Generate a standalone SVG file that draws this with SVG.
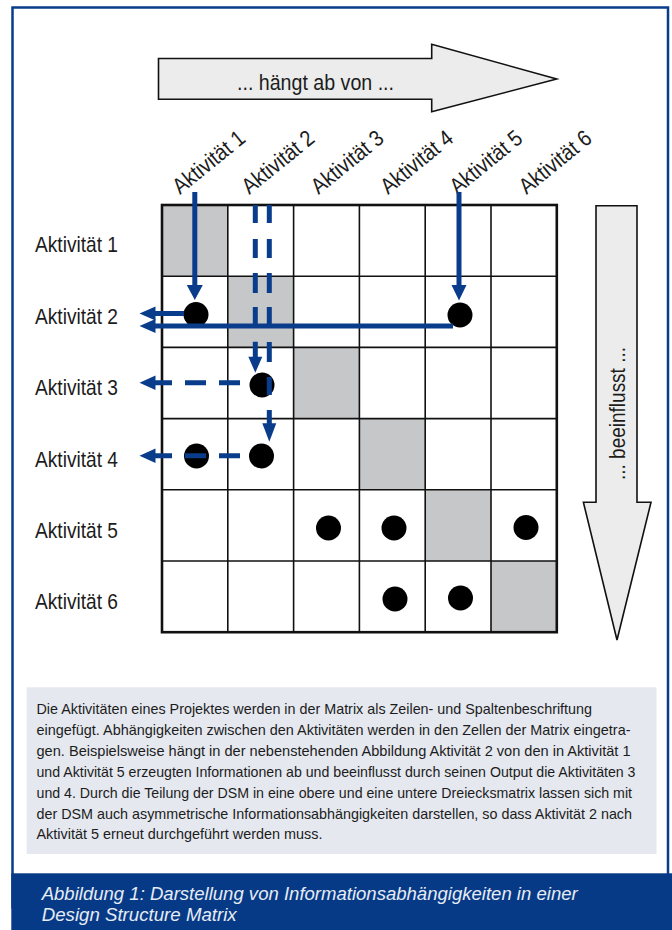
<svg xmlns="http://www.w3.org/2000/svg" width="672" height="930" viewBox="0 0 672 930">
<defs>
<style>
.lbl{font-family:"Liberation Sans",Arial,sans-serif;font-size:22.5px;fill:#1c1c1c}
.body{font-family:"Liberation Sans",Arial,sans-serif;font-size:15px;fill:#1c1c1c}
.cap{font-family:"Liberation Sans",Arial,sans-serif;font-size:18px;font-style:italic;fill:#e6ecf5}
.big{fill:#ebeceb;stroke:#111;stroke-width:1.6}
.shade{fill:#c6c7c9}
.gl{stroke:#111;stroke-width:1.6}
.dot{fill:#000}
.con{stroke:#0a3c8c;stroke-width:5;fill:none}
.head{fill:#0a3c8c}
</style>
</defs>
<rect x="0" y="0" width="672" height="930" fill="#fff"/>
<rect id="frame" x="12.5" y="7.5" width="655.5" height="900" fill="#fff" stroke="#0a3c8c" stroke-width="2.5"/>

<g id="arrow-haengt">
<polygon class="big" points="158.5,58.5 431.7,58.5 431.7,44.3 556.7,79 431.7,111.7 431.7,99.3 158.5,99.3"/>
<text class="lbl" x="237" y="90" textLength="157" lengthAdjust="spacingAndGlyphs">... hängt ab von ...</text>
</g>

<g id="arrow-beeinflusst">
<polygon class="big" points="596,205.7 637,205.7 637,502.3 651,502.3 617,640 583.4,502.3 596,502.3"/>
<text class="lbl" transform="translate(624.5,480) rotate(-90)" x="0" y="0" textLength="133" lengthAdjust="spacingAndGlyphs">... beeinflusst ...</text>
</g>

<g id="col-labels">
<text class="lbl" transform="translate(180,195) rotate(-39)" textLength="86" lengthAdjust="spacingAndGlyphs">Aktivität 1</text>
<text class="lbl" transform="translate(249.3,195) rotate(-39)" textLength="86" lengthAdjust="spacingAndGlyphs">Aktivität 2</text>
<text class="lbl" transform="translate(318.6,195) rotate(-39)" textLength="86" lengthAdjust="spacingAndGlyphs">Aktivität 3</text>
<text class="lbl" transform="translate(387.9,195) rotate(-39)" textLength="86" lengthAdjust="spacingAndGlyphs">Aktivität 4</text>
<text class="lbl" transform="translate(457.2,195) rotate(-39)" textLength="86" lengthAdjust="spacingAndGlyphs">Aktivität 5</text>
<text class="lbl" transform="translate(526.5,195) rotate(-39)" textLength="86" lengthAdjust="spacingAndGlyphs">Aktivität 6</text>
</g>

<g id="row-labels">
<text class="lbl" x="35" y="252.3" textLength="83" lengthAdjust="spacingAndGlyphs">Aktivität 1</text>
<text class="lbl" x="35" y="323.5" textLength="83" lengthAdjust="spacingAndGlyphs">Aktivität 2</text>
<text class="lbl" x="35" y="394.5" textLength="83" lengthAdjust="spacingAndGlyphs">Aktivität 3</text>
<text class="lbl" x="35" y="466.5" textLength="83" lengthAdjust="spacingAndGlyphs">Aktivität 4</text>
<text class="lbl" x="35" y="538" textLength="83" lengthAdjust="spacingAndGlyphs">Aktivität 5</text>
<text class="lbl" x="35" y="608.5" textLength="83" lengthAdjust="spacingAndGlyphs">Aktivität 6</text>
</g>

<g id="matrix">
<rect x="162" y="205" width="394.8" height="427.2" fill="#fff"/>
<rect class="shade" x="162" y="205" width="65.8" height="71.2"/>
<rect class="shade" x="227.8" y="276.2" width="65.8" height="71.2"/>
<rect class="shade" x="293.6" y="347.4" width="65.8" height="71.2"/>
<rect class="shade" x="359.4" y="418.6" width="65.8" height="71.2"/>
<rect class="shade" x="425.2" y="489.8" width="65.8" height="71.2"/>
<rect class="shade" x="491" y="561" width="65.8" height="71.2"/>
<g class="gl">
<line x1="227.8" y1="205" x2="227.8" y2="632.2"/>
<line x1="293.6" y1="205" x2="293.6" y2="632.2"/>
<line x1="359.4" y1="205" x2="359.4" y2="632.2"/>
<line x1="425.2" y1="205" x2="425.2" y2="632.2"/>
<line x1="491" y1="205" x2="491" y2="632.2"/>
<line x1="162" y1="276.2" x2="556.8" y2="276.2"/>
<line x1="162" y1="347.4" x2="556.8" y2="347.4"/>
<line x1="162" y1="418.6" x2="556.8" y2="418.6"/>
<line x1="162" y1="489.8" x2="556.8" y2="489.8"/>
<line x1="162" y1="561" x2="556.8" y2="561"/>
</g>
<rect x="162" y="205" width="394.8" height="427.2" fill="none" stroke="#111" stroke-width="2.6"/>
</g>

<g id="dots">
<circle class="dot" cx="196" cy="314.5" r="12.5"/>
<circle class="dot" cx="460" cy="315" r="12.5"/>
<circle class="dot" cx="262" cy="385" r="12.5"/>
<circle class="dot" cx="196.5" cy="456" r="12.5"/>
<circle class="dot" cx="261.5" cy="456" r="12.5"/>
<circle class="dot" cx="328.5" cy="528" r="12.5"/>
<circle class="dot" cx="394" cy="528" r="12.5"/>
<circle class="dot" cx="526" cy="527.5" r="12.5"/>
<circle class="dot" cx="395" cy="599" r="12.5"/>
<circle class="dot" cx="460.5" cy="598" r="12.5"/>
</g>

<g id="connectors">
<line class="con" x1="194.8" y1="192" x2="194.8" y2="286"/>
<polygon class="head" points="186.8,285 202.8,285 194.8,300"/>
<line class="con" x1="459" y1="192" x2="459" y2="286"/>
<polygon class="head" points="451.5,285 466.5,285 459,300.5"/>
<line class="con" x1="184" y1="313.5" x2="154" y2="313.5"/>
<polygon class="head" points="155.5,306.5 155.5,320.5 139.5,313.5"/>
<line class="con" x1="453" y1="326" x2="154" y2="326"/>
<polygon class="head" points="155.5,319 155.5,333 139.5,326"/>
<path class="con" d="M255.3,205V223M255.3,239V258M255.3,273V293M255.3,307V327M255.3,341.7V358"/>
<polygon class="head" points="248.3,356.7 262.3,356.7 255.3,372.7"/>
<path class="con" d="M269.3,205V223M269.3,239V258M269.3,273V293M269.3,307V327M269.3,342V362M269.3,377V395M269.3,410V424.5"/>
<polygon class="head" points="262.3,423.3 276.3,423.3 269.3,441.7"/>
<path class="con" d="M240,382.7H219M206,382.7H185M172,382.7H154"/>
<polygon class="head" points="155.5,375.5 155.5,390 139.5,382.7"/>
<path class="con" d="M240,455.7H219M206,455.7H185M172,455.7H154"/>
<polygon class="head" points="155.5,448.5 155.5,463 139.5,455.7"/>
</g>

<g id="description">
<rect x="26.7" y="687.3" width="629.8" height="166.7" fill="#e5e8ef"/>
<text class="body" x="36.5" y="714.3" textLength="555.5" lengthAdjust="spacingAndGlyphs">Die Aktivitäten eines Projektes werden in der Matrix als Zeilen- und Spaltenbeschriftung</text>
<text class="body" x="36.5" y="735.2" textLength="594" lengthAdjust="spacingAndGlyphs">eingefügt. Abhängigkeiten zwischen den Aktivitäten werden in den Zellen der Matrix eingetra-</text>
<text class="body" x="36.5" y="756" textLength="594" lengthAdjust="spacingAndGlyphs">gen. Beispielsweise hängt in der nebenstehenden Abbildung Aktivität 2 von den in Aktivität 1</text>
<text class="body" x="36.5" y="776.9" textLength="599" lengthAdjust="spacingAndGlyphs">und Aktivität 5 erzeugten Informationen ab und beeinflusst durch seinen Output die Aktivitäten 3</text>
<text class="body" x="36.5" y="797.7" textLength="595.5" lengthAdjust="spacingAndGlyphs">und 4. Durch die Teilung der DSM in eine obere und eine untere Dreiecksmatrix lassen sich mit</text>
<text class="body" x="36.5" y="818.6" textLength="595.5" lengthAdjust="spacingAndGlyphs">der DSM auch asymmetrische Informationsabhängigkeiten darstellen, so dass Aktivität 2 nach</text>
<text class="body" x="36.5" y="839.4" textLength="286" lengthAdjust="spacingAndGlyphs">Aktivität 5 erneut durchgeführt werden muss.</text>
</g>

<g id="caption">
<rect x="11.3" y="873.3" width="660.7" height="56.7" fill="#073a86"/>
<text class="cap" x="41.7" y="900" textLength="536" lengthAdjust="spacingAndGlyphs">Abbildung 1: Darstellung von Informationsabhängigkeiten in einer</text>
<text class="cap" x="41.7" y="920.7" textLength="195" lengthAdjust="spacingAndGlyphs">Design Structure Matrix</text>
</g>
</svg>
